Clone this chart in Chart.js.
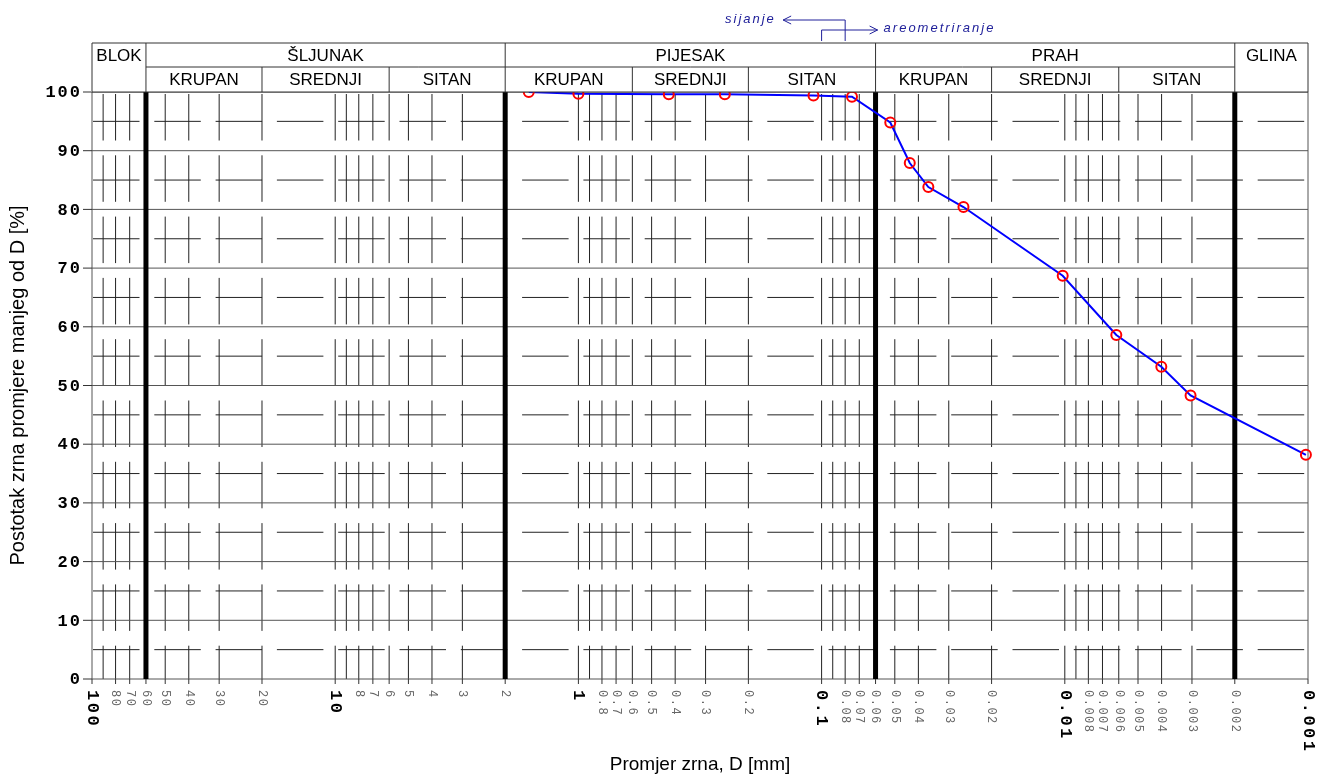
<!DOCTYPE html>
<html>
<head>
<meta charset="utf-8">
<script src="https://cdn.jsdelivr.net/npm/chart.js@4.4.1/dist/chart.umd.min.js"></script>
<style>
  html, body { margin: 0; padding: 0; background: #fff; }
  #granulometrija { display: block; }
</style>
</head>
<body>
<canvas id="granulometrija" width="1317" height="775"></canvas>
<script>
// granulometrijska krivulja: promjer zrna D [mm] i postotak prolaza [%]
const promjer = [1.6, 1.0, 0.425, 0.25, 0.108, 0.075, 0.0522, 0.0434, 0.0364, 0.0261, 0.0102, 0.00614, 0.00401, 0.00304, 0.00102];
const prolaz = [100, 99.7, 99.6, 99.6, 99.4, 99.2, 94.8, 87.9, 83.8, 80.4, 68.7, 58.6, 53.2, 48.3, 38.2];

// oznake na osi x (mm), dekade su podebljane
const xOznake = [100, 80, 70, 60, 50, 40, 30, 20, 10, 8, 7, 6, 5, 4, 3, 2,
  1, 0.8, 0.7, 0.6, 0.5, 0.4, 0.3, 0.2, 0.1, 0.08, 0.07, 0.06, 0.05, 0.04, 0.03, 0.02,
  0.01, 0.008, 0.007, 0.006, 0.005, 0.004, 0.003, 0.002, 0.001];
const xDekade = [100, 10, 1, 0.1, 0.01, 0.001];

// tanke vertikalne linije mreže
const mrezaD = [90, 80, 70, 50, 40, 30, 20, 10, 9, 8, 7, 6, 5, 4, 3,
  1, 0.9, 0.8, 0.7, 0.6, 0.5, 0.4, 0.3, 0.2, 0.1, 0.09, 0.08, 0.07, 0.05, 0.04, 0.03, 0.02,
  0.01, 0.009, 0.008, 0.007, 0.006, 0.005, 0.004, 0.003];
// debele granice frakcija
const granice = [60, 2, 0.06, 0.002];

const yOznake = [0, 10, 20, 30, 40, 50, 60, 70, 80, 90, 100];
const yPomocne = [5, 15, 25, 35, 45, 55, 65, 75, 85, 95];

// zaglavlje s frakcijama
const glavneFrakcije = ['BLOK', 'ŠLJUNAK', 'PIJESAK', 'PRAH', 'GLINA'];
const glavneGranice = [100, 60, 2, 0.06, 0.002, 0.001];
const podFrakcije = ['KRUPAN', 'SREDNJI', 'SITAN'];
const podGranice = [[60, 20, 6, 2], [2, 0.6, 0.2, 0.06], [0.06, 0.02, 0.006, 0.002]];

function linija(ctx, x1, y1, x2, y2) {
  ctx.beginPath();
  ctx.moveTo(x1, y1);
  ctx.lineTo(x2, y2);
  ctx.stroke();
}

const mreza = {
  id: 'mreza',
  beforeDatasetsDraw(chart) {
    const { ctx, chartArea: a, scales: { x, y } } = chart;
    ctx.save();
    ctx.lineWidth = 1;

    // isprekidane pomoćne linije
    ctx.strokeStyle = '#222';
    ctx.setLineDash([46.5, 14.8]);
    for (const p of yPomocne) {
      const py = y.getPixelForValue(p);
      linija(ctx, a.left + 1, py, a.right, py);
    }
    for (const d of mrezaD) {
      const px = x.getPixelForValue(d);
      linija(ctx, px, a.top + 2, px, a.bottom);
    }
    ctx.setLineDash([]);

    // glavne horizontalne linije
    ctx.strokeStyle = '#555';
    for (const p of yOznake) {
      const py = y.getPixelForValue(p);
      linija(ctx, a.left, py, a.right, py);
    }
    linija(ctx, a.left, a.top, a.left, a.bottom);
    linija(ctx, a.right, a.top, a.right, a.bottom);

    // crtice na osima
    ctx.strokeStyle = '#333';
    for (const p of yOznake) {
      const py = y.getPixelForValue(p);
      linija(ctx, a.left - 9, py, a.left, py);
    }
    for (const d of xOznake) {
      const px = x.getPixelForValue(d);
      linija(ctx, px, a.bottom, px, a.bottom + 5);
    }

    // debele granice
    ctx.lineWidth = 5;
    ctx.strokeStyle = '#000';
    for (const g of granice) {
      const px = x.getPixelForValue(g);
      linija(ctx, px, a.top, px, a.bottom);
    }
    ctx.restore();
  },
  afterDraw(chart) {
    const { ctx, chartArea: a, scales: { x, y } } = chart;
    ctx.save();

    // zaglavlje
    const vrh = a.top - 49, sredina = a.top - 25;
    ctx.fillStyle = '#fff';
    ctx.fillRect(a.left - 1, vrh - 1, a.right - a.left + 2, a.top - vrh + 1);
    ctx.strokeStyle = '#333';
    ctx.lineWidth = 1;
    linija(ctx, a.left, vrh, a.right, vrh);
    linija(ctx, x.getPixelForValue(60), sredina, x.getPixelForValue(0.002), sredina);
    linija(ctx, a.left, a.top, a.right, a.top);
    for (const g of glavneGranice) {
      const px = x.getPixelForValue(g);
      linija(ctx, px, vrh, px, a.top);
    }
    for (const grupa of podGranice) {
      for (const g of grupa.slice(1, 3)) {
        const px = x.getPixelForValue(g);
        linija(ctx, px, sredina, px, a.top);
      }
    }

    ctx.fillStyle = '#000';
    ctx.font = '17px "Liberation Sans", Arial, sans-serif';
    ctx.textAlign = 'center';
    ctx.textBaseline = 'middle';
    glavneFrakcije.forEach((naziv, i) => {
      const cx = (x.getPixelForValue(glavneGranice[i]) + x.getPixelForValue(glavneGranice[i + 1])) / 2;
      ctx.fillText(naziv, cx, vrh + 13);
    });
    podGranice.forEach(grupa => {
      podFrakcije.forEach((naziv, i) => {
        const cx = (x.getPixelForValue(grupa[i]) + x.getPixelForValue(grupa[i + 1])) / 2;
        ctx.fillText(naziv, cx, sredina + 13);
      });
    });

    // oznake osi y
    ctx.font = 'bold 17px "Liberation Mono", monospace';
    ctx.letterSpacing = '2px';
    ctx.textAlign = 'right';
    for (const p of yOznake) {
      ctx.fillText(String(p), a.left - 10, y.getPixelForValue(p) + 1);
    }

    // oznake osi x, okomito
    ctx.textAlign = 'left';
    for (const d of xOznake) {
      const dekada = xDekade.includes(d);
      ctx.save();
      ctx.translate(x.getPixelForValue(d), a.bottom + 11);
      ctx.rotate(Math.PI / 2);
      if (dekada) {
        ctx.font = 'bold 17px "Liberation Mono", monospace';
        ctx.letterSpacing = '2.5px';
        ctx.fillStyle = '#000';
      } else {
        ctx.font = '12px "Liberation Mono", monospace';
        ctx.letterSpacing = '1.5px';
        ctx.fillStyle = '#666';
      }
      ctx.fillText(String(d), 0, 0);
      ctx.restore();
    }
    ctx.letterSpacing = '0px';

    // naslovi osi
    ctx.fillStyle = '#000';
    ctx.font = '19px "Liberation Sans", Arial, sans-serif';
    ctx.textAlign = 'center';
    ctx.fillText('Promjer zrna, D [mm]', (a.left + a.right) / 2, 765);
    ctx.save();
    ctx.font = '20px "Liberation Sans", Arial, sans-serif';
    ctx.translate(18, (a.top + a.bottom) / 2);
    ctx.rotate(-Math.PI / 2);
    ctx.fillText('Postotak zrna promjere manjeg od D [%]', 0, 0);
    ctx.restore();

    // sijanje / areometriranje
    const plava = '#20209a';
    ctx.strokeStyle = plava;
    ctx.fillStyle = plava;
    ctx.lineWidth = 1;
    const s = x.getPixelForValue(0.08), r = x.getPixelForValue(0.1);
    ctx.beginPath();
    ctx.moveTo(s, vrh - 2); ctx.lineTo(s, vrh - 23); ctx.lineTo(s - 62, vrh - 23);
    ctx.moveTo(s - 54, vrh - 27); ctx.lineTo(s - 62, vrh - 23); ctx.lineTo(s - 54, vrh - 19);
    ctx.moveTo(r, vrh - 2); ctx.lineTo(r, vrh - 13); ctx.lineTo(r + 56, vrh - 13);
    ctx.moveTo(r + 48, vrh - 17); ctx.lineTo(r + 56, vrh - 13); ctx.lineTo(r + 48, vrh - 9);
    ctx.stroke();
    ctx.font = 'italic 13px "Liberation Sans", Arial, sans-serif';
    ctx.letterSpacing = '2px';
    ctx.textAlign = 'left';
    ctx.fillText('sijanje', 725, vrh - 24);
    ctx.fillText('areometriranje', r + 62, vrh - 15);
    ctx.restore();
  }
};

new Chart(document.getElementById('granulometrija'), {
  type: 'line',
  data: {
    datasets: [{
      data: promjer.map((d, i) => ({ x: d, y: prolaz[i] })),
      borderColor: '#0000ff',
      borderWidth: 2,
      tension: 0,
      pointRadius: 5,
      pointBorderWidth: 2,
      pointBorderColor: '#ff0000',
      pointBackgroundColor: 'rgba(0,0,0,0)',
      clip: false
    }]
  },
  options: {
    responsive: false,
    animation: false,
    events: [],
    layout: { padding: { left: 92, right: 9, top: 92, bottom: 96 } },
    plugins: { legend: { display: false }, tooltip: { enabled: false } },
    scales: {
      x: { type: 'logarithmic', reverse: true, min: 0.001, max: 100, display: false },
      y: { type: 'linear', min: 0, max: 100, display: false }
    }
  },
  plugins: [mreza]
});
</script>
</body>
</html>
